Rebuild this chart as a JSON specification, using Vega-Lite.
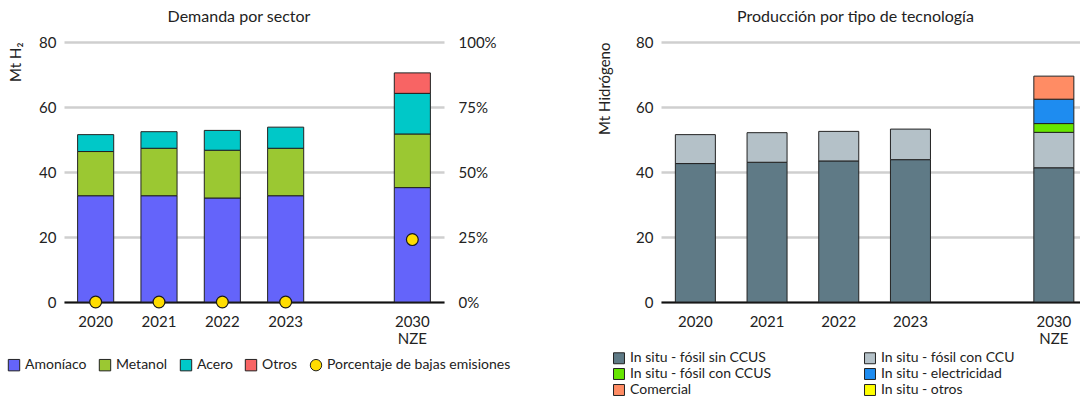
{
  "$schema": "https://vega.github.io/schema/vega-lite/v6.json",
  "background": "white",
  "padding": {"left": 7, "top": 9, "right": 0, "bottom": 0},
  "bounds": "flush",
  "spacing": 217,
  "resolve": {"scale": {"color": "independent"}, "legend": {"color": "independent"}},
  "config": {
    "font": "Lato",
    "view": {"stroke": null},
    "title": {"fontSize": 16, "fontWeight": "normal", "color": "#222", "offset": 10, "dx": -15},
    "axis": {"labelColor": "#222", "titleColor": "#222", "labelFont": "Lato", "titleFont": "Lato", "titleFontWeight": "normal"},
    "legend": {"labelColor": "#222", "labelFont": "Lato", "labelLimit": 0}
  },
  "datasets": {
    "demanda": [
      {"anio": "2020", "sector": "Amoníaco", "valor": 32.7},
      {"anio": "2020", "sector": "Metanol", "valor": 13.6},
      {"anio": "2020", "sector": "Acero", "valor": 5.2},
      {"anio": "2021", "sector": "Amoníaco", "valor": 32.7},
      {"anio": "2021", "sector": "Metanol", "valor": 14.6},
      {"anio": "2021", "sector": "Acero", "valor": 5.1},
      {"anio": "2022", "sector": "Amoníaco", "valor": 32.0},
      {"anio": "2022", "sector": "Metanol", "valor": 14.7},
      {"anio": "2022", "sector": "Acero", "valor": 6.1},
      {"anio": "2023", "sector": "Amoníaco", "valor": 32.7},
      {"anio": "2023", "sector": "Metanol", "valor": 14.6},
      {"anio": "2023", "sector": "Acero", "valor": 6.5},
      {"anio": "2030", "sector": "Amoníaco", "valor": 35.2},
      {"anio": "2030", "sector": "Metanol", "valor": 16.5},
      {"anio": "2030", "sector": "Acero", "valor": 12.5},
      {"anio": "2030", "sector": "Otros", "valor": 6.3}
    ],
    "bajas": [
      {"anio": "2020", "serie": "Porcentaje de bajas emisiones", "pct": 0.0},
      {"anio": "2021", "serie": "Porcentaje de bajas emisiones", "pct": 0.0},
      {"anio": "2022", "serie": "Porcentaje de bajas emisiones", "pct": 0.0},
      {"anio": "2023", "serie": "Porcentaje de bajas emisiones", "pct": 0.0},
      {"anio": "2030", "serie": "Porcentaje de bajas emisiones", "pct": 0.24}
    ],
    "produccion": [
      {"anio": "2020", "tec": "In situ - fósil sin CCUS", "valor": 42.6},
      {"anio": "2020", "tec": "In situ - fósil con CCU", "valor": 8.9},
      {"anio": "2021", "tec": "In situ - fósil sin CCUS", "valor": 43.0},
      {"anio": "2021", "tec": "In situ - fósil con CCU", "valor": 9.1},
      {"anio": "2022", "tec": "In situ - fósil sin CCUS", "valor": 43.4},
      {"anio": "2022", "tec": "In situ - fósil con CCU", "valor": 9.1},
      {"anio": "2023", "tec": "In situ - fósil sin CCUS", "valor": 43.8},
      {"anio": "2023", "tec": "In situ - fósil con CCU", "valor": 9.4},
      {"anio": "2030", "tec": "In situ - fósil sin CCUS", "valor": 41.3},
      {"anio": "2030", "tec": "In situ - fósil con CCU", "valor": 10.9},
      {"anio": "2030", "tec": "In situ - fósil con CCUS", "valor": 2.7},
      {"anio": "2030", "tec": "In situ - electricidad", "valor": 7.5},
      {"anio": "2030", "tec": "Comercial", "valor": 7.1}
    ]
  },
  "hconcat": [
    {
      "width": 380,
      "height": 260,
      "title": {"text": "Demanda por sector"},
      "resolve": {"scale": {"y": "independent"}},
      "layer": [
        {
          "data": {"name": "demanda"},
          "transform": [{"calculate": "indexof(['Amoníaco','Metanol','Acero','Otros'], datum.sector)", "as": "orden"}],
          "mark": {"type": "bar", "stroke": "#222", "strokeWidth": 1},
          "encoding": {
            "x": {
              "field": "anio", "type": "nominal",
              "scale": {"domain": ["2020", "2021", "2022", "2023", "gap", "2030"], "paddingInner": 0.43, "paddingOuter": 0.215},
              "axis": {"title": null, "labelAngle": 0, "labelFontSize": 15, "labelPadding": 12, "ticks": false, "domainColor": "#111", "domainWidth": 2,
                       "labelExpr": "datum.value == 'gap' ? '' : (datum.value == '2030' ? ['2030', 'NZE'] : datum.value)"}
            },
            "y": {
              "field": "valor", "type": "quantitative", "aggregate": "sum", "stack": "zero",
              "scale": {"domain": [0, 80]},
              "axis": {"title": "Mt H₂", "titleFontSize": 15, "titlePadding": 15, "titleAnchor": "end", "values": [0, 20, 40, 60, 80], "labelFontSize": 15, "labelPadding": 8,
                       "ticks": false, "domain": false, "grid": true, "gridColor": "#cfcfcf", "gridWidth": 2.5}
            },
            "order": {"field": "orden", "type": "quantitative", "aggregate": "min"},
            "color": {
              "field": "sector", "type": "nominal",
              "scale": {"domain": ["Amoníaco", "Metanol", "Acero", "Otros", "Porcentaje de bajas emisiones"],
                        "range": ["#6464fa", "#9bc832", "#00c8c8", "#f86464", "#ffdd00"]},
              "legend": {"orient": "none", "legendX": -57, "legendY": 316, "direction": "horizontal", "title": null,
                         "labelFontSize": 14, "symbolSize": 130, "columnPadding": 10, "symbolType": "square",
                         "symbolStrokeColor": "#222", "symbolStrokeWidth": 1,
                         "encode": {"symbols": {"update": {"shape": {"signal": "datum.value === 'Porcentaje de bajas emisiones' ? 'circle' : 'square'"}, "stroke": {"value": "#222"}, "strokeWidth": {"value": 1}}}}}
            }
          }
        },
        {
          "data": {"name": "bajas"},
          "mark": {"type": "point", "filled": true, "size": 140, "stroke": "#1a1a1a", "strokeWidth": 1.2, "opacity": 1},
          "encoding": {
            "x": {"field": "anio", "type": "nominal"},
            "y": {
              "field": "pct", "type": "quantitative",
              "scale": {"domain": [0, 1]},
              "axis": {"orient": "right", "title": null, "format": ".0%", "values": [0, 0.25, 0.5, 0.75, 1], "labelFontSize": 15, "labelPadding": 14,
                       "ticks": false, "domain": false, "grid": false}
            },
            "color": {"field": "serie", "type": "nominal"}
          }
        }
      ]
    },
    {
      "width": 419,
      "height": 260,
      "title": {"text": "Producción por tipo de tecnología"},
      "data": {"name": "produccion"},
      "transform": [{"calculate": "indexof(['In situ - fósil sin CCUS','In situ - fósil con CCU','In situ - otros','In situ - fósil con CCUS','In situ - electricidad','Comercial'], datum.tec)", "as": "orden"}],
      "mark": {"type": "bar", "stroke": "#222", "strokeWidth": 1},
      "encoding": {
        "x": {
          "field": "anio", "type": "nominal",
          "scale": {"domain": ["2020", "2021", "2022", "2023", "gap", "2030"], "paddingInner": 0.442, "paddingOuter": 0.143, "align": 0.7},
          "axis": {"title": null, "labelAngle": 0, "labelFontSize": 15, "labelPadding": 12, "ticks": false, "domainColor": "#111", "domainWidth": 2,
                   "labelExpr": "datum.value == 'gap' ? '' : (datum.value == '2030' ? ['2030', 'NZE'] : datum.value)"}
        },
        "y": {
          "field": "valor", "type": "quantitative", "aggregate": "sum", "stack": "zero",
          "scale": {"domain": [0, 80]},
          "axis": {"title": "Mt Hidrógeno", "titleFontSize": 15, "titlePadding": 23, "titleAnchor": "end", "values": [0, 20, 40, 60, 80], "labelFontSize": 15, "labelPadding": 8,
                   "ticks": false, "domain": false, "grid": true, "gridColor": "#cfcfcf", "gridWidth": 2.5}
        },
        "order": {"field": "orden", "type": "quantitative", "aggregate": "min"},
        "color": {
          "field": "tec", "type": "nominal",
          "scale": {"domain": ["In situ - fósil sin CCUS", "In situ - fósil con CCUS", "Comercial", "In situ - fósil con CCU", "In situ - electricidad", "In situ - otros"],
                    "range": ["#5f7a86", "#66e600", "#ff8c64", "#b4c1c8", "#1e8cf0", "#ffff00"]},
          "legend": {"orient": "none", "legendX": -49, "legendY": 309, "columns": 2, "title": null, "labelFontSize": 14, "symbolSize": 120,
                     "symbolType": "square", "columnPadding": 90, "rowPadding": 0, "gridAlign": "all",
                     "symbolStrokeColor": "#222", "symbolStrokeWidth": 1,
                     "encode": {"symbols": {"update": {"stroke": {"value": "#222"}, "strokeWidth": {"value": 1}}}}}
        }
      }
    }
  ]
}
